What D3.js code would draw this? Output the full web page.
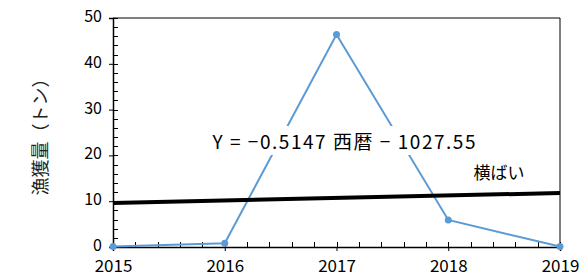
<!DOCTYPE html>
<html>
<head>
<meta charset="utf-8">
<script src="https://cdn.jsdelivr.net/npm/d3@7"></script>
<style>
  body { margin: 0; background: #fff; }
  text { font-family: "Liberation Sans Narrow", "Noto Sans CJK JP", sans-serif; fill: #000; }
</style>
</head>
<body>
<div id="chart"></div>
<script>
// data
const years = [2015, 2016, 2017, 2018, 2019];
const catch_t = [0.1, 0.8, 46.4, 5.9, 0.1];
const trendYears = [2015, 2019];
const trendValues = [9.6, 11.8];
const yTicks = [0, 10, 20, 30, 40, 50];
const equationText = "Y = −0.5147 西暦 − 1027.55";
const trendLabel = "横ばい";
const yTitle = "漁獲量（トン）";

const width = 579;
const height = 276;
const margin = { top: 18, right: 19, bottom: 29, left: 113 };

const svg = d3.select("#chart")
    .append("svg")
    .attr("width", width)
    .attr("height", height);

const x = d3.scaleLinear()
    .domain([2015, 2019])
    .range([margin.left, width - margin.right]);

const y = d3.scaleLinear()
    .domain([0, 50])
    .range([height - margin.bottom, margin.top]);

// plot frame (top and right)
svg.append("path")
    .attr("d", `M${x(2015)},${y(50)}H${x(2019)}V${y(0)}`)
    .attr("fill", "none")
    .attr("stroke", "#000")
    .attr("stroke-width", 1);

// minor ticks, pointing inward
const yMinor = d3.range(0, 50.01, 2);
svg.append("g")
    .selectAll("line")
    .data(yMinor)
    .enter().append("line")
    .attr("x1", x(2015)).attr("x2", x(2015) + 5)
    .attr("y1", d => Math.round(y(d)) + 0.5).attr("y2", d => Math.round(y(d)) + 0.5)
    .attr("stroke", "#000");

const xMinor = d3.range(0, 20.01, 1).map(i => 2015 + i * 0.2);
svg.append("g")
    .selectAll("line")
    .data(xMinor)
    .enter().append("line")
    .attr("x1", d => Math.round(x(d)) + 0.5).attr("x2", d => Math.round(x(d)) + 0.5)
    .attr("y1", y(0)).attr("y2", y(0) - 5)
    .attr("stroke", "#000");

// y axis
const yAxis = svg.append("g")
    .attr("transform", `translate(${x(2015)},0)`)
    .call(d3.axisLeft(y).tickValues(yTicks).tickSize(4).tickPadding(7));
yAxis.select(".domain").attr("stroke", "#000").attr("stroke-width", 1.5);
yAxis.selectAll("text").attr("font-size", 16).attr("dy", "0.22em")
    .attr("font-family", "Liberation Sans Narrow, sans-serif");

// x axis
const xAxis = svg.append("g")
    .attr("transform", `translate(0,${y(0)})`)
    .call(d3.axisBottom(x).tickValues(years).tickFormat(d3.format("d")).tickSize(4).tickPadding(10));
xAxis.select(".domain").attr("stroke", "#000").attr("stroke-width", 1.5);
xAxis.selectAll("text").attr("font-size", 17).attr("dy", "0.66em")
    .attr("font-family", "Liberation Sans Narrow, sans-serif");

// y title
svg.append("text")
    .attr("transform", `translate(47,${(y(0) + y(50)) / 2}) rotate(-90)`)
    .attr("text-anchor", "middle")
    .attr("font-size", 18)
    .style("fill", "#222")
    .text(yTitle);

// data line
const line = d3.line()
    .x((d, i) => x(years[i]))
    .y(d => y(d));

svg.append("path")
    .datum(catch_t)
    .attr("d", line)
    .attr("fill", "none")
    .attr("stroke", "#5b9bd5")
    .attr("stroke-width", 2);

svg.append("g")
    .selectAll("circle")
    .data(catch_t)
    .enter().append("circle")
    .attr("cx", (d, i) => x(years[i]))
    .attr("cy", d => y(d))
    .attr("r", 3.5)
    .attr("fill", "#5b9bd5");

// trend line
svg.append("line")
    .attr("x1", x(trendYears[0])).attr("y1", y(trendValues[0]))
    .attr("x2", x(trendYears[1])).attr("y2", y(trendValues[1]))
    .attr("stroke", "#000")
    .attr("stroke-width", 4);

// equation with white background box
const eqBox = svg.append("rect").attr("fill", "#fff");
const eq = svg.append("text")
    .attr("x", 344)
    .attr("y", 149)
    .attr("text-anchor", "middle")
    .attr("font-size", 19)
    .attr("textLength", 263)
    .attr("lengthAdjust", "spacing")
    .attr("font-family", "Liberation Sans Narrow, Noto Sans CJK JP, sans-serif")
    .text(equationText);
const bb = eq.node().getBBox();
eqBox.attr("x", bb.x - 4).attr("y", bb.y - 1)
    .attr("width", bb.width + 8).attr("height", bb.height + 2);

svg.append("text")
    .attr("x", 499)
    .attr("y", 179)
    .attr("text-anchor", "middle")
    .attr("font-size", 17)
    .attr("font-family", "Noto Sans CJK JP, sans-serif")
    .text(trendLabel);
</script>
</body>
</html>
